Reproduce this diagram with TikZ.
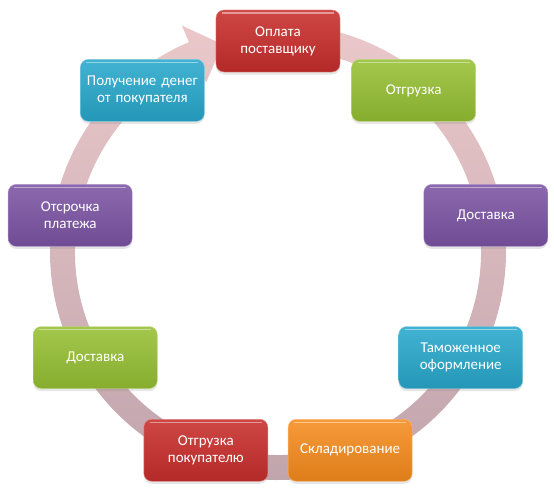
\documentclass[tikz,border=0pt]{standalone}
\usepackage{fontspec}
\setmainfont{Carlito}
\usetikzlibrary{shadows}
\definecolor{stagered}{RGB}{200,46,44}
\definecolor{stagegreen}{RGB}{150,192,52}
\definecolor{stagepurple}{RGB}{124,84,164}
\definecolor{stagecyan}{RGB}{40,168,204}
\definecolor{stageorange}{RGB}{246,140,30}
\definecolor{ringtop}{RGB}{234,200,202}
\definecolor{ringbottom}{RGB}{192,164,172}

\begin{document}
\begin{tikzpicture}[x=1pt, y=1pt,
	stage/.style={rounded corners=8pt, inner sep=1pt, minimum width=124pt, minimum height=62pt, text width=122pt, align=center, text=white, font=\fontsize{15}{17}\selectfont, drop shadow={opacity=0.2, shadow xshift=0pt, shadow yshift=-2.5pt},
		path picture={\draw[white, opacity=0.45, line width=1.2pt] ([xshift=6pt, yshift=-3pt]path picture bounding box.north west) -- ([xshift=-6pt, yshift=-3pt]path picture bounding box.north east);}},
	redstage/.style={stage, top color=stagered!88!white, bottom color=stagered!90!black, draw=stagered!60!white},
	greenstage/.style={stage, top color=stagegreen!88!white, bottom color=stagegreen!90!black, draw=stagegreen!60!white},
	purplestage/.style={stage, top color=stagepurple!88!white, bottom color=stagepurple!90!black, draw=stagepurple!60!white},
	cyanstage/.style={stage, top color=stagecyan!88!white, bottom color=stagecyan!90!black, draw=stagecyan!60!white},
	orangestage/.style={stage, top color=stageorange!88!white, bottom color=stageorange!90!black, draw=stageorange!60!white}]
	\useasboundingbox (-278,-241) rectangle (276,252);
	% cycle arrow
	\shade[top color=ringtop, bottom color=ringbottom] (445:228) arc[start angle=445, end angle=113, radius=228] -- (113:246) -- (105:215) -- (113:184) -- (113:203) arc[start angle=113, end angle=445, radius=203] -- cycle;
	% stages
	\node[redstage] (pay) at (90:211) {Оплата\\поставщику};
	\node[greenstage] (ship) at (50:211) {Отгрузка};
	\node[purplestage] (deliver) at (10:211) {Доставка};
	\node[cyanstage] (customs) at (-30:211) {Таможенное\\оформление};
	\node[orangestage] (store) at (-70:211) {Складирование};
	\node[redstage] (shipbuyer) at (-110:211) {Отгрузка\\покупателю};
	\node[greenstage] (deliverbuyer) at (-150:211) {Доставка};
	\node[purplestage] (defer) at (170:211) {Отсрочка\\платежа};
	\node[cyanstage] (receive) at (130:211) {Получение денег\\от покупателя};
\end{tikzpicture}
\end{document}
